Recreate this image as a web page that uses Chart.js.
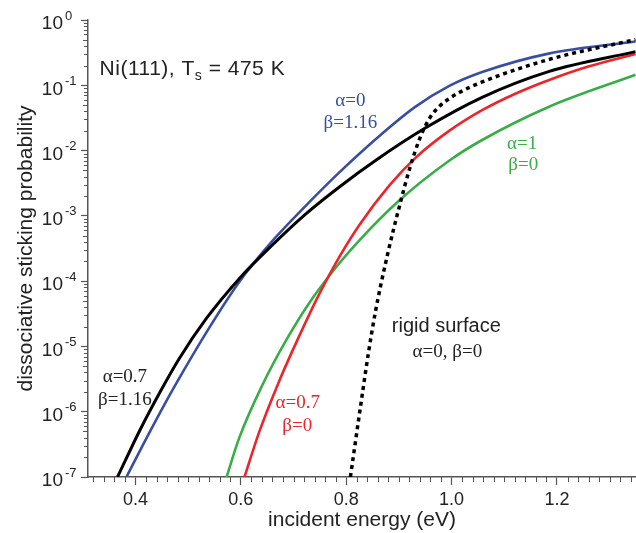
<!DOCTYPE html>
<html lang="en">
<head>
<meta charset="UTF-8">
<title>Dissociative sticking probability on Ni(111)</title>
<script src="https://cdn.jsdelivr.net/npm/chart.js@4.4.0/dist/chart.umd.min.js"></script>
<style>
    html, body { margin: 0; padding: 0; background: #fff; }
    #wrap { width: 636px; height: 533px; position: relative; }
</style>
</head>
<body>
<div id="wrap"><canvas id="chart"></canvas></div>
<script>
// incident energy (eV) and log10(sticking probability)
const energyBlue  = [0.383, 0.427, 0.474, 0.540, 0.597, 0.660, 0.724, 0.787, 0.869, 0.931, 0.994, 1.058, 1.184, 1.349];
const logBlue     = [-7.0, -6.312, -5.616, -4.715, -4.012, -3.384, -2.839, -2.334, -1.735, -1.331, -1.017, -0.798, -0.515, -0.328];

const energyBlack = [0.366, 0.408, 0.446, 0.483, 0.535, 0.597, 0.660, 0.724, 0.787, 0.857, 0.950, 1.058, 1.184, 1.349];
const logBlack    = [-7.0, -6.291, -5.709, -5.188, -4.568, -3.962, -3.446, -2.966, -2.557, -2.144, -1.655, -1.184, -0.790, -0.484];

const energyRed   = [0.607, 0.635, 0.673, 0.711, 0.749, 0.787, 0.825, 0.882, 0.933, 0.996, 1.058, 1.121, 1.184, 1.261, 1.349];
const logRed      = [-7.0, -6.309, -5.528, -4.839, -4.196, -3.629, -3.139, -2.533, -2.100, -1.695, -1.381, -1.129, -0.922, -0.709, -0.519];

const energyGreen = [0.573, 0.597, 0.641, 0.687, 0.736, 0.787, 0.825, 0.899, 0.996, 1.058, 1.184, 1.349];
const logGreen    = [-7.0, -6.401, -5.591, -4.893, -4.263, -3.726, -3.374, -2.776, -2.152, -1.838, -1.332, -0.839];

const energyRigid = [0.808, 0.829, 0.842, 0.855, 0.878, 0.901, 0.920, 0.939, 0.958, 0.977, 0.996, 1.015, 1.058, 1.184, 1.349];
const logRigid    = [-7.0, -5.819, -5.112, -4.490, -3.608, -2.855, -2.288, -1.828, -1.507, -1.323, -1.201, -1.109, -0.949, -0.606, -0.300];

const xTicks = [0.4, 0.6, 0.8, 1.0, 1.2];
const yTickExponents = [0, -1, -2, -3, -4, -5, -6, -7];

const axisColor = '#555';
const textColor = '#222';
const blue = 'rgb(58,78,160)';
const red = 'rgb(232,38,44)';
const green = 'rgb(58,172,72)';

// curve labels: position in (energy, log10 probability)
const notes = [
    { text: 'α=0',      x: 0.808, y: -1.317, color: blue,  serif: true },
    { text: 'β=1.16',   x: 0.808, y: -1.654, color: blue,  serif: true },
    { text: 'α=1',      x: 1.134, y: -1.975, color: green, serif: true },
    { text: 'β=0',      x: 1.136, y: -2.297, color: green, serif: true },
    { text: 'rigid surface', x: 0.990, y: -4.778, color: textColor, serif: false },
    { text: 'α=0, β=0', x: 0.992, y: -5.161, color: textColor, serif: true },
    { text: 'α=0.7',    x: 0.708, y: -5.94,  color: red,   serif: true },
    { text: 'β=0',      x: 0.707, y: -6.29,  color: red,   serif: true },
    { text: 'α=0.7',    x: 0.380, y: -5.544, color: textColor, serif: true },
    { text: 'β=1.16',   x: 0.380, y: -5.896, color: textColor, serif: true }
];

function points(energy, logs) {
    return energy.map((e, i) => ({ x: e, y: Math.pow(10, logs[i]) }));
}

function curve(label, energy, logs, color, width, order, dash) {
    return {
        label: label,
        data: points(energy, logs),
        borderColor: color,
        borderWidth: width,
        borderDash: dash || [],
        pointRadius: 0,
        fill: false,
        cubicInterpolationMode: 'monotone',
        order: order
    };
}

const overlay = {
    id: 'overlay',
    afterDraw(chart) {
        const ctx = chart.ctx;
        const xs = chart.scales.x, ys = chart.scales.y;
        const area = chart.chartArea;
        ctx.save();

        // minor ticks
        ctx.strokeStyle = axisColor;
        ctx.lineWidth = 1;
        ctx.beginPath();
        for (let i = 16; i <= 67; i++) {
            const v = i * 0.02;
            if (i % 10 === 0) continue;
            if (v < xs.min || v > xs.max) continue;
            const px = Math.round(xs.getPixelForValue(v)) + 0.5;
            ctx.moveTo(px, area.bottom);
            ctx.lineTo(px, area.bottom + 5);
        }
        for (let e = -7; e < 0; e++) {
            for (let k = 2; k <= 9; k++) {
                const py = Math.round(ys.getPixelForValue(k * Math.pow(10, e))) + 0.5;
                ctx.moveTo(area.left, py);
                ctx.lineTo(area.left - (k === 5 ? 5 : 4), py);
            }
        }
        ctx.stroke();

        // y tick labels with superscript exponent
        ctx.fillStyle = textColor;
        ctx.textBaseline = 'middle';
        yTickExponents.forEach(e => {
            const py = ys.getPixelForValue(Math.pow(10, e));
            ctx.font = '19px "Liberation Sans", Arial, sans-serif';
            ctx.textAlign = 'right';
            ctx.fillText('10', 63, py + 4);
            ctx.font = '13px "Liberation Sans", Arial, sans-serif';
            ctx.textAlign = 'left';
            ctx.fillText(e === 0 ? '0' : '-' + Math.abs(e), 65, py - 4);
        });

        // title inside the plot
        ctx.textBaseline = 'alphabetic';
        ctx.textAlign = 'left';
        ctx.letterSpacing = '0.5px';
        let tx = xs.getPixelForValue(0.332);
        const ty = ys.getPixelForValue(Math.pow(10, -0.842));
        ctx.font = '21px "Liberation Sans", Arial, sans-serif';
        ctx.fillText('Ni(111), T', tx, ty);
        tx += ctx.measureText('Ni(111), T').width;
        ctx.font = '14px "Liberation Sans", Arial, sans-serif';
        ctx.fillText('s', tx, ty + 5);
        tx += ctx.measureText('s').width;
        ctx.font = '21px "Liberation Sans", Arial, sans-serif';
        ctx.fillText(' = 475 K', tx, ty);
        ctx.letterSpacing = '0px';

        // curve labels
        ctx.textAlign = 'center';
        notes.forEach(n => {
            ctx.font = n.serif ? '19px "Liberation Serif", "Times New Roman", serif'
                               : '20px "Liberation Sans", Arial, sans-serif';
            ctx.fillStyle = n.color;
            ctx.fillText(n.text, xs.getPixelForValue(n.x), ys.getPixelForValue(Math.pow(10, n.y)));
        });

        ctx.restore();
    }
};

new Chart(document.getElementById('chart'), {
    type: 'line',
    data: {
        datasets: [
            curve('rigid surface', energyRigid, logRigid, '#000', 3.5, 0, [4, 4]),
            curve('α=0.7, β=1.16', energyBlack, logBlack, '#000', 3, 1),
            curve('α=0, β=1.16', energyBlue, logBlue, blue, 2.6, 2),
            curve('α=0.7, β=0', energyRed, logRed, red, 2.6, 3),
            curve('α=1, β=0', energyGreen, logGreen, green, 2.6, 4)
        ]
    },
    options: {
        responsive: true,
        maintainAspectRatio: false,
        animation: false,
        devicePixelRatio: 1,
        parsing: false,
        layout: { padding: { top: 20, right: 0, left: 0, bottom: 0 } },
        plugins: {
            legend: { display: false },
            tooltip: { enabled: false }
        },
        scales: {
            x: {
                type: 'linear',
                min: 0.31,
                max: 1.35,
                afterBuildTicks: s => { s.ticks = xTicks.map(v => ({ value: v })); },
                afterFit: s => { s.height = 56; },
                grid: { display: true, drawOnChartArea: false, drawTicks: true, tickLength: 8, tickColor: axisColor, tickWidth: 1.2 },
                border: { display: true, color: axisColor, width: 1.5 },
                ticks: {
                    color: textColor,
                    padding: 4,
                    maxRotation: 0,
                    autoSkip: false,
                    font: { family: '"Liberation Sans", Arial, sans-serif', size: 18 },
                    callback: v => v.toFixed(1)
                },
                title: {
                    display: true,
                    text: 'incident energy (eV)',
                    color: textColor,
                    padding: { top: 0, bottom: 0 },
                    font: { family: '"Liberation Sans", Arial, sans-serif', size: 21 }
                }
            },
            y: {
                type: 'logarithmic',
                min: 1e-7,
                max: 1,
                afterBuildTicks: s => { s.ticks = yTickExponents.map(e => ({ value: Math.pow(10, e), major: true })); },
                afterFit: s => { s.width = 88; },
                grid: { display: true, drawOnChartArea: false, drawTicks: true, tickLength: 7, tickColor: axisColor, tickWidth: 1.2 },
                border: { display: true, color: axisColor, width: 1.5 },
                ticks: { display: false },
                title: {
                    display: true,
                    text: 'dissociative sticking probability',
                    color: textColor,
                    padding: { top: 14, bottom: 0 },
                    font: { family: '"Liberation Sans", Arial, sans-serif', size: 21 }
                }
            }
        }
    },
    plugins: [overlay]
});
</script>
</body>
</html>
